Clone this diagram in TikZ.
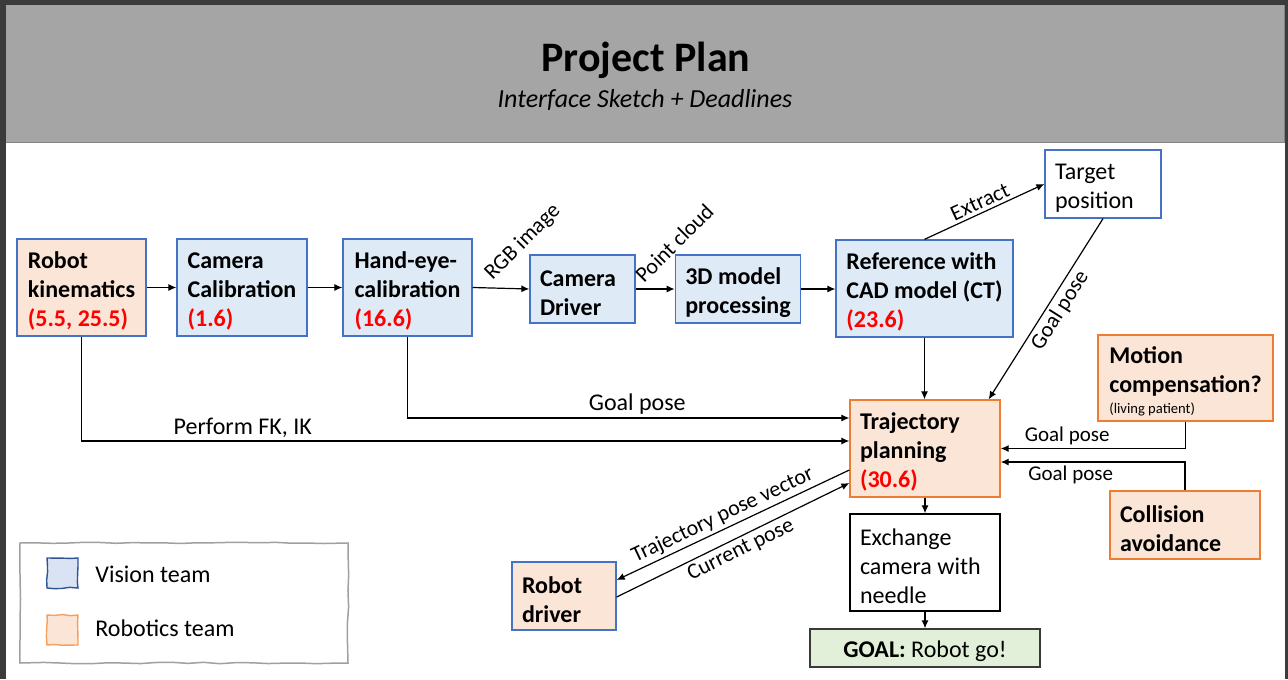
\documentclass[tikz,border=0pt]{standalone}
\usepackage{fontspec}
\setmainfont{Carlito}
\usepackage{xcolor}
\usepackage{tikz}
\usetikzlibrary{calc, arrows.meta, decorations.pathmorphing}
\definecolor{framedark}{HTML}{3B3B3B}
\definecolor{headergray}{HTML}{A5A5A5}
\definecolor{headerline}{HTML}{858585}
\definecolor{visionfill}{HTML}{DEEBF7}
\definecolor{visionline}{HTML}{4472C4}
\definecolor{roboticsfill}{HTML}{FBE5D6}
\definecolor{roboticsline}{HTML}{ED7D31}
\definecolor{goalfill}{HTML}{E2F0D9}
\definecolor{goalline}{HTML}{3A3A3A}
\definecolor{legendline}{HTML}{A0A0A0}
\definecolor{legvisionfill}{HTML}{DAE3F3}
\definecolor{legvisionline}{HTML}{2F5597}
\definecolor{legroboticsline}{HTML}{F4A060}
\newcommand{\boxfont}{\fontsize{12}{14.4}\selectfont}
\newcommand{\labelfont}{\fontsize{11}{13}\selectfont}
\newcommand{\deadline}[1]{\textcolor{red}{#1}}
\newcommand{\topstrut}{\rule{0pt}{12pt}}

\tikzset{
  box/.style={draw, line width=0.65pt, inner xsep=5pt, inner ysep=0pt, align=flush left, font=\boxfont,
    execute at begin node={\hyphenpenalty=10000}},
  vision/.style={box, draw=visionline, fill=visionfill, font=\boxfont\bfseries},
  robotics/.style={box, draw=roboticsline, fill=roboticsfill, font=\boxfont\bfseries},
  conn/.style={-{Latex[length=4pt, width=3.5pt]}, line width=0.6pt},
  lbl/.style={font=\labelfont, inner sep=1.5pt},
  wobbly/.style={decorate, decoration={random steps, segment length=#1, amplitude=0.35pt}},
}

\begin{document}
\begin{tikzpicture}[x=0.5pt, y=-0.5pt]
  \useasboundingbox (0,0) rectangle (1288,679);
  \pgfmathsetseed{7}

  % Frame and header
  \fill[framedark] (0,0) rectangle (1288,679);
  \fill[white] (6,4.7) rectangle (1285.3,679);
  \fill[headergray] (6,4.7) rectangle (1285.3,142.7);
  \draw[headerline, line width=0.7pt] (6,142.7) -- (1285.3,142.7);
  \draw[headerline, line width=0.7pt] (1284.6,4.7) -- (1284.6,142.7);
  \node[font=\fontsize{21}{25}\selectfont\bfseries, anchor=base] (title) at (646,71.7) {Project Plan};
  \node[font=\fontsize{13}{15}\selectfont\itshape, anchor=base] (subtitle) at (645,107.3) {Interface Sketch + Deadlines};

  % Top row
  \node[robotics, draw=visionline, minimum width=64.5pt, minimum height=48.5pt] (kin) at (81.5,287.5) {\topstrut Robot\\kinematics\\\deadline{(5.5, 25.5)}};
  \node[vision, minimum width=65pt, minimum height=48.5pt] (camcal) at (242,287.5) {\topstrut Camera\\Calibration\\\deadline{(1.6)}};
  \node[vision, minimum width=64.5pt, minimum height=48.5pt] (handeye) at (407.5,287.5) {\topstrut Hand-eye-\\calibration\\\deadline{(16.6)}};
  \node[vision, text width=42.5pt, minimum width=52.5pt, minimum height=34pt] (camdrv) at (582.5,289) {\topstrut Camera\\Driver};
  \node[vision, minimum width=62pt, minimum height=34pt] (model) at (738,289) {\topstrut 3D model\\processing};
  \node[vision, minimum width=88.5pt, minimum height=48.5pt] (ref) at (924.5,288.5) {\topstrut Reference with\\CAD model (CT)\\\deadline{(23.6)}};
  \node[box, draw=visionline, fill=white, text width=48pt, minimum width=58pt, minimum height=34pt] (target) at (1103,184) {\topstrut Target\\position};

  % Robotics side
  \node[robotics, minimum width=87.5pt, minimum height=43pt] (motion) at (1185.5,378) {\topstrut Motion\\compensation?\\[-4pt]{\fontsize{7.3}{9}\selectfont\mdseries (living patient)}};
  \node[robotics, text width=65pt, minimum width=75pt, minimum height=48.5pt] (traj) at (925,448.5) {\topstrut Trajectory\\planning\\\deadline{(30.6)}};
  \node[robotics, text width=65pt, minimum width=75pt, minimum height=34pt] (coll) at (1185,525) {\topstrut Collision\\avoidance};
  \node[box, draw=black, fill=white, text width=65pt, minimum width=75pt, minimum height=48.5pt] (exch) at (925,562.5) {\topstrut Exchange\\camera with\\needle};
  \node[box, draw=goalline, fill=goalfill, align=center, minimum width=115pt, minimum height=19pt] (goal) at (925,648) {\topstrut\textbf{GOAL:} Robot go!};
  \node[robotics, draw=visionline, text width=42pt, minimum width=52pt, minimum height=34pt] (drv) at (564,596) {\topstrut Robot\\driver};

  % Connectors
  \draw[conn] (kin) -- (camcal);
  \draw[conn] (camcal) -- (handeye);
  \draw[conn] (handeye.east) -- node[lbl, rotate=45, anchor=south west, pos=0.4] {RGB image} (camdrv.west);
  \draw[conn] (camdrv) -- node[lbl, rotate=45, anchor=south west, pos=0.22] {Point cloud} (model);
  \draw[conn] (model) -- (model -| ref.west);
  \draw[conn] (ref.north) -- node[lbl, sloped, above] {Extract} (target.west);
  \draw[conn] (target.south) -- node[lbl, sloped, below, pos=0.47] {Goal pose} ([xshift=-6pt]traj.north east);
  \draw[conn] (ref.south) -- (ref.south |- traj.north);
  \draw[conn] (handeye.south) |- node[lbl, font=\boxfont, pos=0.76, above] {Goal pose} ($(traj.west)+(0,-30.5)$);
  \draw[conn] (kin.south) |- node[lbl, font=\boxfont, pos=0.605, above] {Perform FK, IK} ($(traj.west)+(0,-7.5)$);
  \draw[conn] (motion.south) |- node[lbl, font=\fontsize{10.5}{12}\selectfont, pos=0.82, above] {Goal pose} (traj.east);
  \draw[conn] (coll.north) |- node[lbl, font=\fontsize{10.5}{12}\selectfont, pos=0.81, below] {Goal pose} ($(traj.east)+(0,13.5)$);
  \draw[conn] ($(traj.west)+(0,21.5)$) -- node[lbl, sloped, above, pos=0.52] {Trajectory pose vector} ($(drv.east)+(0,-16)$);
  \draw[conn] ($(drv.east)+(0,1)$) -- node[lbl, sloped, below, pos=0.51] {Current pose} ($(traj.west)+(0,34.5)$);
  \draw[conn] (traj) -- (exch);
  \draw[conn] (exch) -- (goal);

  % Legend
  \draw[legendline, line width=0.75pt, wobbly=8pt] (20,543) -- (348,543) -- (348,663) -- (20,663) -- cycle;
  \draw[legvisionline, fill=legvisionfill, line width=0.7pt, wobbly=4pt] (47,558) -- (78,558) -- (78,588) -- (47,588) -- cycle;
  \draw[legroboticsline, fill=roboticsfill, line width=0.7pt, wobbly=4pt] (47,615) -- (78,615) -- (78,645) -- (47,645) -- cycle;
  \node[font=\boxfont, anchor=base west, inner sep=0pt] (vtxt) at (95,582) {Vision team};
  \node[font=\boxfont, anchor=base west, inner sep=0pt] (rtxt) at (95,636) {Robotics team};
\end{tikzpicture}
\end{document}
